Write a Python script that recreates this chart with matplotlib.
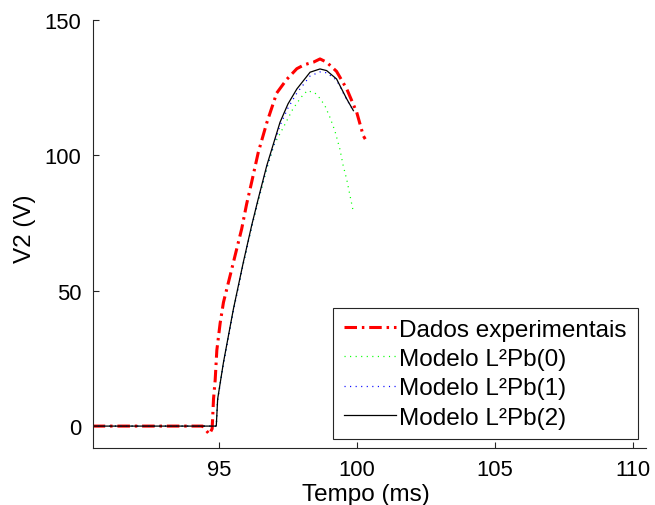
import matplotlib
matplotlib.use("Agg")
import matplotlib.pyplot as plt

plt.rcParams['font.family'] = ['Liberation Sans', 'DejaVu Sans']
plt.rcParams['lines.scale_dashes'] = False

# Experimental data (Dados experimentais)
exp_t = [90.42, 91.5, 92.5, 93.5, 94.4, 94.65, 94.75, 94.8, 94.86, 94.92, 95.04, 95.16,
         95.4, 95.64, 95.82, 96.0, 96.18, 96.42, 96.73, 97.09, 97.45, 97.82, 98.1,
         98.42, 98.66, 98.9, 99.26, 99.63, 99.99, 100.23, 100.3]
exp_v = [0, 0, 0, 0, 0, -3, -1, 10, 17, 28, 38, 45.7,
         55.5, 65.4, 72.8, 82, 90, 101, 112, 123, 128, 132, 133.5,
         134.4, 135.6, 134.4, 131, 124.5, 115.9, 107.2, 106]

# Model L2Pb(0)
m0_t = [90.42, 94.9, 94.95, 95.16, 95.52, 95.88, 96.18, 96.42, 96.73, 97.0, 97.33,
        97.67, 97.97, 98.2, 98.48, 98.66, 98.84, 99.02, 99.2, 99.38, 99.5, 99.63,
        99.75, 99.85]
m0_v = [0, 0, 10, 23.5, 43, 60, 73.5, 83, 95, 104, 110.3,
        117, 121.4, 123.9, 123, 121, 118.3, 114, 109, 102.3, 96.2, 91,
        85, 80]

# Model L2Pb(1) and L2Pb(2)
m_t = [90.42, 94.9, 94.95, 95.16, 95.52, 95.88, 96.18, 96.42, 96.73, 97.21, 97.5,
       97.82, 98.3, 98.66, 98.9, 99.26, 99.63, 99.87]
m1_v = [0, 0, 9.5, 23, 42.5, 60, 73.5, 83.5, 95.5, 111, 117.5,
        123, 129.3, 130.8, 130.5, 127.8, 120.5, 116.5]
m2_v = [0, 0, 10, 23.5, 43.2, 60.5, 74, 83.9, 96.2, 112.2, 119,
        124.5, 130.7, 131.9, 131.3, 128.2, 120.8, 116.5]

labels = ['Dados experimentais', 'Modelo L²Pb(0)', 'Modelo L²Pb(1)', 'Modelo L²Pb(2)']
x_ticks = [95, 100, 105, 110]
y_ticks = [0, 50, 100, 150]

fig = plt.figure(figsize=(6.55, 5.06), dpi=100)
ax = fig.add_axes([0.1415, 0.1126, 0.8445, 0.846])

l_exp, = ax.plot(exp_t, exp_v, color='#ff0000', linewidth=2.2)
l_exp.set_dashes((9, 3.5, 1.8, 3.5))
l0, = ax.plot(m0_t, m0_v, color='#00ff00', linewidth=0.9, linestyle=(0, (0.8, 3.2)))
l1, = ax.plot(m_t, m1_v, color='#0000ff', linewidth=0.9, linestyle=(0, (0.8, 3.2)))
l2, = ax.plot(m_t, m2_v, color='black', linewidth=0.9)

ax.set_xlim(90.42, 110.47)
ax.set_ylim(-8.1, 150)
ax.set_xticks(x_ticks)
ax.set_yticks(y_ticks)
ax.spines['top'].set_visible(False)
ax.spines['right'].set_visible(False)
for s in ('left', 'bottom'):
    ax.spines[s].set_color('#262626')
    ax.spines[s].set_linewidth(0.8)
ax.tick_params(direction='in', length=4, width=0.8, labelsize=15.8, colors='#262626',
               labelcolor='black', pad=8)

fig.text(366 / 655, 1 - 495 / 506, 'Tempo (ms)', fontsize=17.5, ha='center', va='center')
fig.text(25 / 655, 1 - 229 / 506, 'V2 (V)', fontsize=17.5, ha='center', va='center',
         rotation=90)

leg = ax.legend([l_exp, l0, l1, l2], labels, loc='lower right', fontsize=17.5,
                frameon=True, fancybox=False, framealpha=1, edgecolor='#262626',
                handlelength=2.15, handletextpad=0.12, labelspacing=0.3,
                borderpad=0.45, borderaxespad=0.0, bbox_to_anchor=(0.985, 0.02))
leg.get_frame().set_linewidth(0.8)

fig.savefig('out.png', dpi=100, facecolor='white')
